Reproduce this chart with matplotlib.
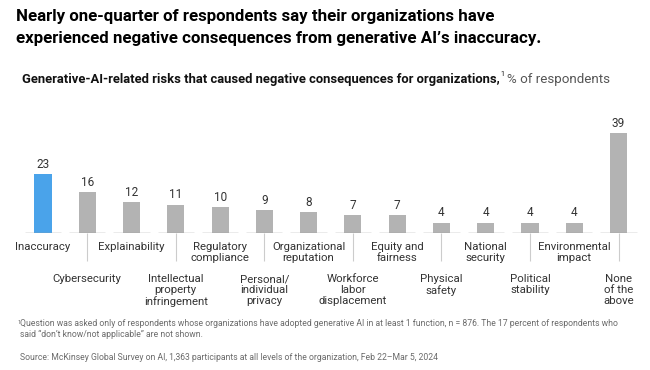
import matplotlib
matplotlib.use("Agg")
import matplotlib.pyplot as plt

plt.rcParams["font.family"] = ["Roboto", "DejaVu Sans"]

categories = [
    "Inaccuracy", "Cybersecurity", "Explainability",
    "Intellectual\nproperty\ninfringement", "Regulatory\ncompliance",
    "Personal/\nindividual\nprivacy", "Organizational\nreputation",
    "Workforce\nlabor\ndisplacement", "Equity and\nfairness",
    "Physical\nsafety", "National\nsecurity", "Political\nstability",
    "Environmental\nimpact", "None\nof the\nabove",
]
values = [23, 16, 12, 11, 10, 9, 8, 7, 7, 4, 4, 4, 4, 39]
highlight = "Inaccuracy"

BLUE = "#4aa3ea"
GRAY = "#b3b3b3"
TEXT = "#333333"
MUTED = "#6b6b6b"


def main():
    fig = plt.figure(figsize=(6.5, 3.7), dpi=100)
    ax = fig.add_axes([0, (370 - 233) / 370, 1, 110 / 370])
    ax.set_xlim(-0.971, 13.711)
    ax.set_ylim(0, 42.9)
    ax.axis("off")

    xs = list(range(len(values)))
    colors = [BLUE if c == highlight else GRAY for c in categories]
    ax.bar(xs, values, width=0.385, color=colors, zorder=2)

    for x, v, name in zip(xs, values, categories):
        ax.hlines(0, x - 0.41, x + 0.41, color="#9a9a9a", lw=1, zorder=3)
        ax.text(x, v + 1.3, str(v), ha="center", va="bottom",
                fontsize=8.5, color=TEXT)
        if x % 2 == 0:
            ax.text(x, -3.6, name, ha="center", va="top", fontsize=8.2,
                    color=TEXT, linespacing=1.12, clip_on=False)
        else:
            ax.vlines(x, -11.0, 0, color="#cccccc", lw=0.8, clip_on=False)
            ax.text(x, -16.0, name, ha="center", va="top", fontsize=8.2,
                    color=TEXT, linespacing=1.12, clip_on=False)

    # title
    fig.text(16 / 650, 1 - 9 / 370,
             "Nearly one-quarter of respondents say their organizations have\n"
             "experienced negative consequences from generative AI\u2019s inaccuracy.",
             ha="left", va="top", fontsize=12.2, fontweight="bold",
             color="#000000", linespacing=1.55)

    # subtitle: bold part, superscript, then regular part
    renderer = fig.canvas.get_renderer()
    sub = fig.text(22 / 650, 1 - 79 / 370,
                   "Generative-AI-related risks that caused negative consequences for organizations,",
                   ha="left", va="center", fontsize=9.4, fontweight="bold",
                   color="#111111")
    bb = sub.get_window_extent(renderer)
    x1 = bb.x1 / fig.bbox.width
    fig.text(x1 + 0.001, 1 - 75 / 370, "1", ha="left", va="center",
             fontsize=5, color="#111111")
    fig.text(x1 + 0.011, 1 - 79 / 370, "% of respondents", ha="left",
             va="center", fontsize=9.6, color="#555555")

    # footnotes
    fig.text(17 / 650, 1 - 322 / 370, "1", ha="left", va="center",
             fontsize=4, color=MUTED)
    fig.text(20 / 650, 1 - 319 / 370,
             "Question was asked only of respondents whose organizations have adopted "
             "generative AI in at least 1 function, n = 876. The 17 percent of respondents who\n"
             "said \u201cdon\u2019t know/not applicable\u201d are not shown.",
             ha="left", va="top", fontsize=6.2, color=MUTED, linespacing=1.3)
    fig.text(20 / 650, 1 - 357 / 370,
             "Source: McKinsey Global Survey on AI, 1,363 participants at all levels of "
             "the organization, Feb 22\u2013Mar 5, 2024",
             ha="left", va="center", fontsize=6.2, color=MUTED)

    fig.savefig("out.png", dpi=100)


if __name__ == "__main__":
    main()
